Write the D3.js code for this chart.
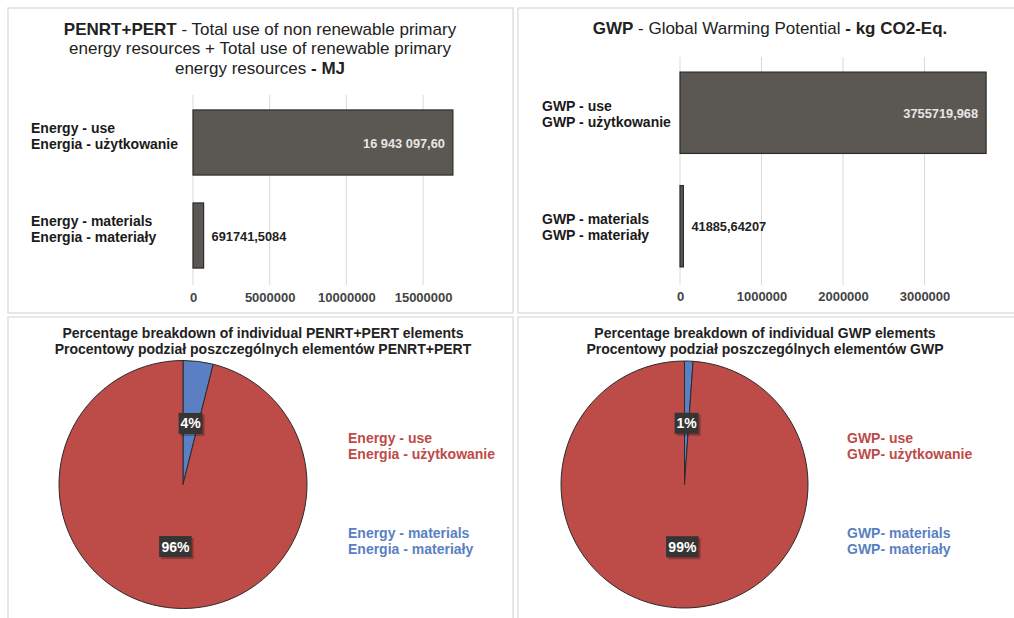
<!DOCTYPE html>
<html><head><meta charset="utf-8">
<script src="https://cdn.jsdelivr.net/npm/d3@7"></script>
<style>body{margin:0;background:#fff;font-family:Arial,"Liberation Sans",sans-serif}</style>
</head><body><svg id="c" width="1014" height="618"></svg>
<script>
const energyCats = [["Energy - use","Energia - użytkowanie"],["Energy - materials","Energia - materiały"]];
const energyVals = [16943097.60, 691741.5084];
const energyLabels = ["16 943 097,60","691741,5084"];
const energyTicks = [0,5000000,10000000,15000000];
const gwpCats = [["GWP - use","GWP - użytkowanie"],["GWP - materials","GWP - materiały"]];
const gwpVals = [3755719.968, 41885.64207];
const gwpLabels = ["3755719,968","41885,64207"];
const gwpTicks = [0,1000000,2000000,3000000];
const energyLegend = [["Energy - use","Energia - użytkowanie"],["Energy - materials","Energia - materiały"]];
const gwpLegend = [["GWP- use","GWP- użytkowanie"],["GWP- materials","GWP- materiały"]];
const pieColors = ["#bd4b48","#5a80c3"];

const svg = d3.select("#c");
const panels = [[8,8,505,305],[518,8,498,305],[8,317,505,305],[518,317,498,305]];
svg.selectAll("rect.panel").data(panels).join("rect").attr("class","panel")
  .attr("x",d=>d[0]).attr("y",d=>d[1]).attr("width",d=>d[2]).attr("height",d=>d[3])
  .attr("fill","#fff").attr("stroke","#e2dfdb").attr("stroke-width",1.5);

function title(g, cx, y, parts){
  const t = g.append("text").attr("x",cx).attr("y",y).attr("text-anchor","middle")
    .attr("font-size",17).attr("fill","#222");
  parts.forEach(p=>t.append("tspan").attr("font-weight",p[1]?"bold":"normal").text(p[0]));
}

function barChart(o){
  const g = svg.append("g");
  const x = d3.scaleLinear().domain([0,o.max]).range([o.x0,o.x1]);
  const y = d3.scaleBand().domain(d3.range(o.vals.length)).range([o.yTop,o.yBot]).paddingInner(o.pin).paddingOuter(o.pout);
  g.selectAll("line.grid").data(o.ticks).join("line")
    .attr("x1",d=>x(d)).attr("x2",d=>x(d)).attr("y1",o.gy0).attr("y2",o.gy1)
    .attr("stroke","#d9d9d9").attr("stroke-width",1);
  const ax = g.append("g").attr("transform",`translate(0,${o.axisY})`)
    .call(d3.axisBottom(x).tickValues(o.ticks).tickFormat(d3.format("d")).tickSize(0).tickPadding(0));
  ax.select(".domain").remove();
  ax.selectAll("text").attr("font-size",13).attr("font-weight","bold").attr("fill","#444")
    .attr("font-family","Arial,'Liberation Sans',sans-serif");
  g.selectAll("rect.bar").data(o.vals).join("rect")
    .attr("x",x(0)).attr("y",(d,i)=>y(i)).attr("width",d=>x(d)-x(0)).attr("height",y.bandwidth())
    .attr("fill","#5b5753").attr("stroke","#2e2c2a").attr("stroke-width",1.2);
  o.vals.forEach((v,i)=>{
    const inside = i===0;
    g.append("text").attr("x", inside? x(v)-8 : x(v)+8).attr("y", y(i)+y.bandwidth()/2+5)
      .attr("text-anchor", inside?"end":"start").attr("font-size",12.8).attr("font-weight","bold")
      .attr("fill", inside?"#e8e6e4":"#222").text(o.labels[i]);
    const lab = g.append("text").attr("x",o.labX).attr("font-size",14).attr("font-weight","bold").attr("fill","#1a1a1a");
    o.cats[i].forEach((c,k)=>lab.append("tspan").attr("x",o.labX).attr("y",y(i)+y.bandwidth()/2+o.labDy+k*16).text(c));
  });
}

title(svg,260,35,[["PENRT+PERT",1],[" - Total use of non renewable primary",0]]);
title(svg,260,54,[["energy resources + Total use of renewable primary",0]]);
title(svg,260,74,[["energy resources",0],[" - MJ",1]]);
barChart({vals:energyVals,labels:energyLabels,cats:energyCats,ticks:energyTicks,max:17000000,
  x0:193,x1:193+17*15.34,yTop:96,yBot:282,pin:0.3,pout:0.15,gy0:95,gy1:285,axisY:293,labX:31,labDy:-9.5});

title(svg,770,34,[["GWP",1],[" - Global Warming Potential",0],[" - kg CO2-Eq.",1]]);
barChart({vals:gwpVals,labels:gwpLabels,cats:gwpCats,ticks:gwpTicks,max:3800000,
  x0:680,x1:680+3.8*81.5,yTop:57,yBot:282,pin:0.283,pout:0.133,gy0:57,gy1:285,axisY:292,labX:542,labDy:-2});

function pie(o){
  const g = svg.append("g");
  const t = g.append("text").attr("text-anchor","middle").attr("font-size",14).attr("font-weight","bold").attr("fill","#222");
  o.title.forEach((s,k)=>t.append("tspan").attr("x",o.tx).attr("y",338+k*16).text(s));
  // materials first (from 12 o'clock clockwise), then use
  const data = d3.pie().sort(null)([o.vals[1],o.vals[0]]);
  const colors=[pieColors[1],pieColors[0]];
  const arc = d3.arc().innerRadius(0).outerRadius(o.r);
  const pg = g.append("g").attr("transform",`translate(${o.cx},${o.cy})`);
  pg.selectAll("path").data(data).join("path").attr("d",arc).attr("fill",(d,i)=>colors[i])
    .attr("stroke","#2b2b2b").attr("stroke-width",1);
  const total = d3.sum(o.vals);
  const la = d3.arc().innerRadius(o.r*0.5).outerRadius(o.r*0.5);
  data.forEach(d=>{
    const [lx,ly]=la.centroid(d);
    const txt = Math.round(d.value/total*100)+"%";
    const w = txt.length*8.5+7;
    pg.append("rect").attr("x",lx-w/2+2).attr("y",ly-10+2).attr("width",w).attr("height",21).attr("fill","rgba(0,0,0,0.25)");
    pg.append("rect").attr("x",lx-w/2).attr("y",ly-10).attr("width",w).attr("height",21).attr("fill","#363533");
    pg.append("text").attr("x",lx).attr("y",ly+5.5).attr("text-anchor","middle").attr("font-size",14)
      .attr("font-weight","bold").attr("fill","#fff").text(txt);
  });
  o.legend.forEach((L,i)=>{
    const lt = g.append("text").attr("font-size",14).attr("font-weight","bold").attr("fill",pieColors[i]);
    L.forEach((s,k)=>lt.append("tspan").attr("x",o.lx).attr("y",(i===0?443:538)+k*16).text(s));
  });
}
pie({vals:energyVals,title:["Percentage breakdown of individual PENRT+PERT elements","Procentowy podział poszczególnych elementów PENRT+PERT"],
  tx:263,cx:183,cy:484.5,r:124,legend:energyLegend,lx:348});
pie({vals:gwpVals,title:["Percentage breakdown of individual GWP elements","Procentowy podział poszczególnych elementów GWP"],
  tx:765,cx:684.5,cy:484.5,r:123.5,legend:gwpLegend,lx:847});
</script></body></html>
